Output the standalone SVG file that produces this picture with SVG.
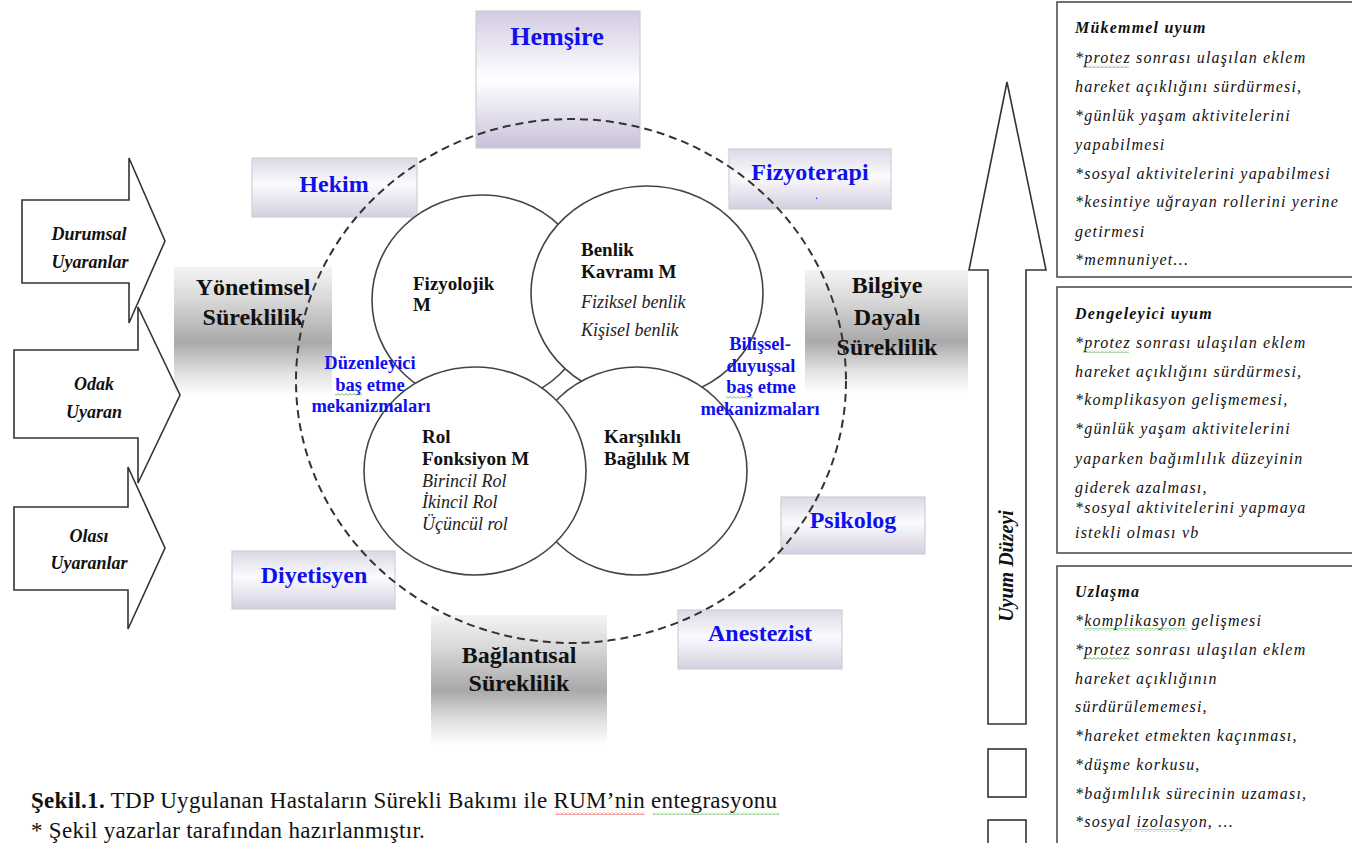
<svg xmlns="http://www.w3.org/2000/svg" width="1352" height="843" viewBox="0 0 1352 843" font-family="'Liberation Serif', 'Times New Roman', 'DejaVu Serif', serif">
<defs>
<linearGradient id="lav" x1="0" y1="0" x2="0" y2="1">
<stop offset="0" stop-color="#dcd8e6"/><stop offset="0.45" stop-color="#fbfbfd"/><stop offset="1" stop-color="#d4cfe0"/>
</linearGradient>
<linearGradient id="lavH" x1="0" y1="0" x2="0" y2="1">
<stop offset="0" stop-color="#d3cbe2"/><stop offset="0.5" stop-color="#ffffff"/><stop offset="1" stop-color="#c9c1d9"/>
</linearGradient>
<linearGradient id="gry" x1="0" y1="0" x2="0" y2="1">
<stop offset="0" stop-color="#f4f4f4"/><stop offset="0.25" stop-color="#d8d8d8"/><stop offset="0.58" stop-color="#a9a9a9"/><stop offset="0.82" stop-color="#e2e2e2"/><stop offset="1" stop-color="#ffffff"/>
</linearGradient>
<pattern id="wg" width="4" height="3" patternUnits="userSpaceOnUse"><path d="M0,2.5 L2,0.5 L4,2.5" fill="none" stroke="#3aa03a" stroke-width="0.8"/></pattern>
<pattern id="wr" width="4" height="3" patternUnits="userSpaceOnUse"><path d="M0,2.5 L2,0.5 L4,2.5" fill="none" stroke="#e02020" stroke-width="0.8"/></pattern>
<style>
text{font-family:'Liberation Serif','Times New Roman','DejaVu Serif',serif}
.blue{font-weight:bold;fill:#1010ee;font-size:24px;text-anchor:middle}
.mech{font-weight:bold;fill:#1010ee;font-size:18.5px;text-anchor:middle}
.sur{font-weight:bold;fill:#111;font-size:24px;text-anchor:middle}
.stim{font-weight:bold;font-style:italic;fill:#111;font-size:18px;text-anchor:middle}
.cb{font-weight:bold;fill:#111;font-size:19px}
.ci{font-style:italic;fill:#222;font-size:18px}
.rt{font-style:italic;fill:#111;font-size:16px;letter-spacing:1.2px}
.rh{font-style:italic;font-weight:bold;fill:#111;font-size:16px;letter-spacing:1.2px}
.cap{font-size:23px;fill:#111;letter-spacing:0.3px}
.pbox{fill:url(#lav);stroke:#cfcdd6;stroke-width:1.2}
.gbox{fill:url(#gry)}
.circ{fill:#fff;stroke:#444;stroke-width:1.6}
.arr{fill:none;stroke:#333;stroke-width:1.6}
.rbox{fill:#fff;stroke:#444;stroke-width:1.5}
</style>
</defs>
<rect width="1352" height="843" fill="#fff"/>

<g id="hemsire"><rect x="476" y="11" width="164" height="137" fill="url(#lavH)" stroke="#cfcdd6" stroke-width="1.2"/><text class="blue" x="557" y="45" style="font-size:26px">Hemşire</text></g>
<g id="hekim"><rect class="pbox" x="252" y="158" width="165" height="59"/><text class="blue" x="334" y="192">Hekim</text></g>
<g id="fizyoterapi"><rect class="pbox" x="729" y="149" width="162" height="60"/><text class="blue" x="810" y="180">Fizyoterapi</text><text x="815" y="199" style="font-size:12px;fill:#1010ee">.</text></g>
<g id="psikolog"><rect class="pbox" x="781" y="497" width="144" height="57"/><text class="blue" x="853" y="528">Psikolog</text></g>
<g id="diyetisyen"><rect class="pbox" x="232" y="551" width="163" height="58"/><text class="blue" x="314" y="583">Diyetisyen</text></g>
<g id="anestezist"><rect class="pbox" x="678" y="610" width="164" height="59"/><text class="blue" x="760" y="641">Anestezist</text></g>

<g id="yonetimsel"><rect class="gbox" x="174" y="267" width="158" height="130"/><text class="sur" x="253" y="295">Yönetimsel</text><text class="sur" x="253" y="325">Süreklilik</text></g>
<g id="bilgiye"><rect class="gbox" x="805" y="270" width="163" height="123"/><text class="sur" x="887" y="293">Bilgiye</text><text class="sur" x="887" y="325">Dayalı</text><text class="sur" x="887" y="355">Süreklilik</text></g>
<g id="baglantisal"><rect class="gbox" x="431" y="615" width="176" height="130"/><text class="sur" x="519" y="663">Bağlantısal</text><text class="sur" x="519" y="691">Süreklilik</text></g>

<g id="ring"><ellipse cx="571" cy="381" rx="275" ry="262" fill="none" stroke="#333" stroke-width="2" stroke-dasharray="8 5"/></g>

<g id="fizyolojik"><ellipse class="circ" cx="482" cy="300" rx="110" ry="105"/><text class="cb" x="413" y="290">Fizyolojik</text><text class="cb" x="413" y="311">M</text></g>
<g id="benlik"><ellipse class="circ" cx="647" cy="293" rx="116" ry="107"/><text class="cb" x="581" y="256">Benlik</text><text class="cb" x="581" y="278">Kavramı M</text><text class="ci" x="581" y="308">Fiziksel benlik</text><text class="ci" x="581" y="336">Kişisel benlik</text></g>
<g id="karsilikli"><ellipse class="circ" cx="637" cy="471" rx="110" ry="104"/><text class="cb" x="604" y="443">Karşılıklı</text><text class="cb" x="604" y="465">Bağlılık M</text></g>
<g id="rol"><ellipse class="circ" cx="475" cy="471" rx="111" ry="104"/><text class="cb" x="422" y="443">Rol</text><text class="cb" x="422" y="465">Fonksiyon M</text><text class="ci" x="422" y="487">Birincil Rol</text><text class="ci" x="422" y="508">İkincil Rol</text><text class="ci" x="422" y="530">Üçüncül rol</text></g>

<g id="duzenleyici"><text class="mech" x="370" y="369">Düzenleyici</text><text class="mech" x="370" y="391">baş etme</text><text class="mech" x="371" y="412">mekanizmaları</text><rect x="335" y="393" width="27" height="3" fill="url(#wg)"/></g>
<g id="bilissel"><text class="mech" x="760" y="350">Bilişsel-</text><text class="mech" x="761" y="372">duyuşsal</text><text class="mech" x="761" y="393">baş etme</text><text class="mech" x="760" y="415">mekanizmaları</text><rect x="726" y="396" width="27" height="3" fill="url(#wg)"/></g>

<g id="durumsal"><path class="arr" d="M22,200 H129 V158 L165,241 L129,323 V283 H22 Z"/><text class="stim" x="89" y="240">Durumsal</text><text class="stim" x="90" y="268">Uyaranlar</text></g>
<g id="odak"><path class="arr" d="M14,350 H138 V307 L180,395 L138,483 V438 H14 Z"/><text class="stim" x="94" y="390">Odak</text><text class="stim" x="94" y="418">Uyaran</text></g>
<g id="olasi"><path class="arr" d="M14,507 H128 V467 L165,548 L128,629 V590 H14 Z"/><text class="stim" x="89" y="542">Olası</text><text class="stim" x="89" y="569">Uyaranlar</text></g>

<g id="uyum"><path class="arr" d="M988,724 V270 H969 L1007,82 L1046,270 H1026 V724 Z"/><text class="stim" transform="translate(1013,566) rotate(-90)" style="font-size:20px">Uyum Düzeyi</text><rect class="arr" x="988" y="749" width="38" height="48"/><rect class="arr" x="988" y="820" width="38" height="40"/></g>

<g id="mukemmel"><rect class="rbox" x="1057" y="2" width="310" height="275"/>
<text class="rh" x="1075" y="33">Mükemmel uyum</text>
<text class="rt" x="1075" y="63">*protez sonrası ulaşılan eklem</text>
<text class="rt" x="1075" y="92">hareket açıklığını sürdürmesi,</text>
<text class="rt" x="1075" y="121">*günlük yaşam aktivitelerini</text>
<text class="rt" x="1075" y="150">yapabilmesi</text>
<text class="rt" x="1075" y="179">*sosyal aktivitelerini yapabilmesi</text>
<text class="rt" x="1075" y="207">*kesintiye uğrayan rollerini yerine</text>
<text class="rt" x="1075" y="237">getirmesi</text>
<text class="rt" x="1075" y="265">*memnuniyet…</text>
<rect x="1083" y="65" width="46" height="3" fill="url(#wg)"/></g>

<g id="dengeleyici"><rect class="rbox" x="1057" y="287" width="310" height="266"/>
<text class="rh" x="1075" y="319">Dengeleyici uyum</text>
<text class="rt" x="1075" y="348">*protez sonrası ulaşılan eklem</text>
<text class="rt" x="1075" y="377">hareket açıklığını sürdürmesi,</text>
<text class="rt" x="1075" y="405">*komplikasyon gelişmemesi,</text>
<text class="rt" x="1075" y="434">*günlük yaşam aktivitelerini</text>
<text class="rt" x="1075" y="464">yaparken bağımlılık düzeyinin</text>
<text class="rt" x="1075" y="493">giderek azalması,</text>
<text class="rt" x="1075" y="513">*sosyal aktivitelerini yapmaya</text>
<text class="rt" x="1075" y="538">istekli olması vb</text>
<rect x="1083" y="350" width="46" height="3" fill="url(#wg)"/></g>

<g id="uzlasma"><rect class="rbox" x="1057" y="566" width="310" height="300"/>
<text class="rh" x="1075" y="597">Uzlaşma</text>
<text class="rt" x="1075" y="626">*komplikasyon gelişmesi</text>
<text class="rt" x="1075" y="655">*protez sonrası ulaşılan eklem</text>
<text class="rt" x="1075" y="684">hareket açıklığının</text>
<text class="rt" x="1075" y="712">sürdürülememesi,</text>
<text class="rt" x="1075" y="741">*hareket etmekten kaçınması,</text>
<text class="rt" x="1075" y="770">*düşme korkusu,</text>
<text class="rt" x="1075" y="799">*bağımlılık sürecinin uzaması,</text>
<text class="rt" x="1075" y="827">*sosyal izolasyon, …</text>
<rect x="1084" y="628" width="103" height="3" fill="url(#wg)"/>
<rect x="1083" y="657" width="46" height="3" fill="url(#wg)"/>
<rect x="1134" y="829" width="58" height="3" fill="url(#wg)"/></g>

<g id="caption">
<text class="cap" x="31" y="808"><tspan font-weight="bold">Şekil.1.</tspan> TDP Uygulanan Hastaların Sürekli Bakımı ile RUM’nin entegrasyonu</text>
<text class="cap" x="31" y="838">* Şekil yazarlar tarafından hazırlanmıştır.</text>
<rect x="555" y="812" width="90" height="3" fill="url(#wr)"/>
<rect x="653" y="812" width="126" height="3" fill="url(#wg)"/>
</g>
</svg>
